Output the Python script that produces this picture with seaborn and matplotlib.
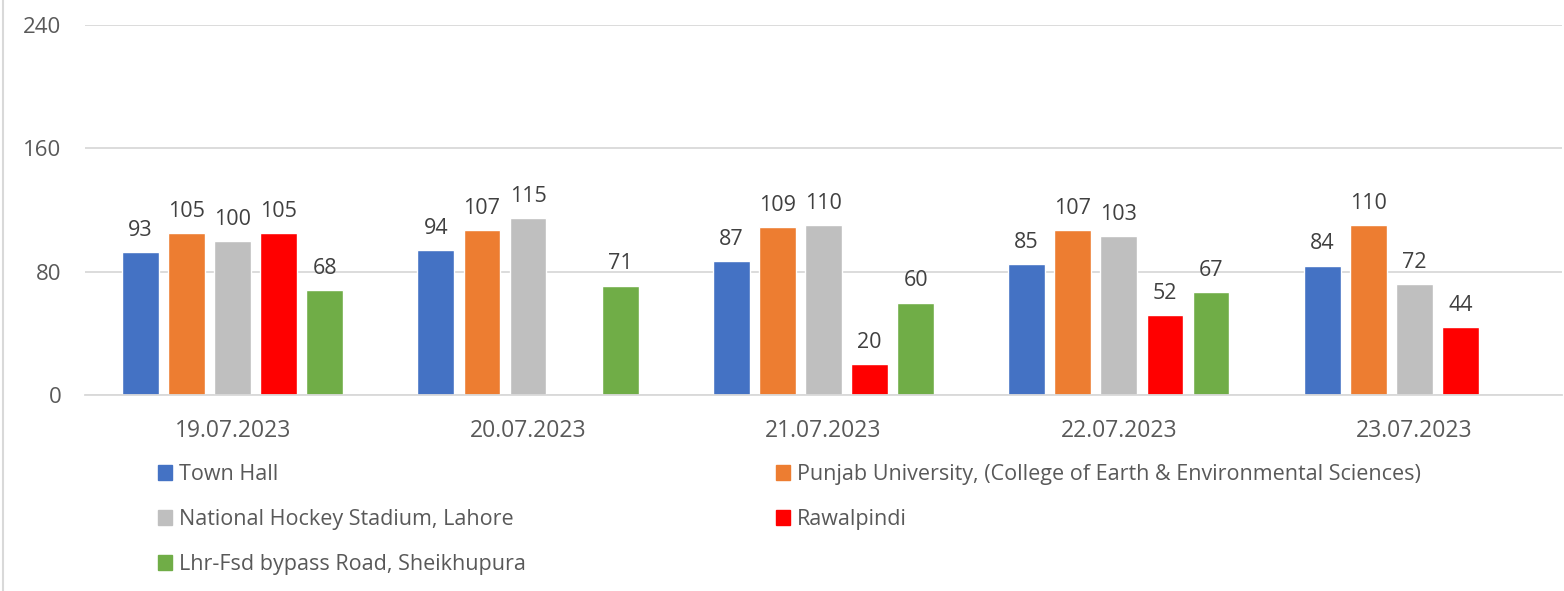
import numpy as np
import pandas as pd
import matplotlib
matplotlib.use('Agg')
import matplotlib.pyplot as plt
import matplotlib.patches as mpatches
import seaborn as sns

dates = ['19.07.2023', '20.07.2023', '21.07.2023', '22.07.2023', '23.07.2023']
stations = ['Town Hall',
            'Punjab University, (College of Earth & Environmental Sciences)',
            'National Hockey Stadium, Lahore',
            'Rawalpindi',
            'Lhr-Fsd bypass Road, Sheikhupura']
town_hall = [93, 94, 87, 85, 84]
punjab_uni = [105, 107, 109, 107, 110]
hockey_stadium = [100, 115, 110, 103, 72]
rawalpindi = [105, np.nan, 20, 52, 44]
sheikhupura = [68, 71, 60, 67, np.nan]
colors = ['#4472C4', '#ED7D31', '#BFBFBF', '#FF0000', '#70AD47']

series = [town_hall, punjab_uni, hockey_stadium, rawalpindi, sheikhupura]
rows = []
for name, vals in zip(stations, series):
    for d, v in zip(dates, vals):
        rows.append({'date': d, 'station': name, 'value': v})
df = pd.DataFrame(rows)

sns.set_style('white')
plt.rcParams['font.family'] = ['Open Sans', 'DejaVu Sans']

fig = plt.figure(figsize=(15.64, 5.91), dpi=100)
ax = fig.add_axes([0.0543, 0.3316, 0.9444, 0.6261])

sns.barplot(data=df, x='date', y='value', hue='station', hue_order=stations,
            palette=colors, width=0.78, gap=0.2, ax=ax, saturation=1)
ax.get_legend().remove()

# value labels above bars (skip missing)
for cont in ax.containers:
    vals = [b.get_height() for b in cont]
    ax.bar_label(cont, labels=['' if np.isnan(v) else f'{v:.0f}' for v in vals],
                 padding=8, fontsize=15.5, color='#404040')

ax.set_ylim(0, 240)
ax.set_yticks([0, 80, 160, 240])
ax.set_xlim(-0.5, 4.5)
ax.yaxis.grid(True, color='#D9D9D9', linewidth=1.3)
ax.set_axisbelow(True)
for s in ['top', 'right', 'left']:
    ax.spines[s].set_visible(False)
ax.spines['bottom'].set_color('#D9D9D9')
ax.spines['bottom'].set_linewidth(1.3)
ax.tick_params(axis='x', length=0, pad=17, labelsize=16.5, labelcolor='#595959')
ax.tick_params(axis='y', length=0, pad=17, labelsize=16, labelcolor='#595959')
ax.set_xlabel('')
ax.set_ylabel('')

# legend: two columns filled row by row
handles = [mpatches.Patch(color=c) for c in colors]
leg_kw = dict(frameon=False, fontsize=15.5, labelcolor='#595959', handlelength=0.65,
              handleheight=0.65, handletextpad=0.35, labelspacing=1.12,
              borderaxespad=0, borderpad=0)
leg1 = fig.legend([handles[0], handles[2], handles[4]],
                  [stations[0], stations[2], stations[4]],
                  loc='upper left', bbox_to_anchor=(0.101, 0.215), **leg_kw)
leg2 = fig.legend([handles[1], handles[3]], [stations[1], stations[3]],
                  loc='upper left', bbox_to_anchor=(0.496, 0.215), **leg_kw)

fig.add_artist(plt.Line2D([0.002, 0.002], [0, 1], color='#D9D9D9', linewidth=1.5,
                          transform=fig.transFigure))

fig.savefig('out.png', dpi=100)
